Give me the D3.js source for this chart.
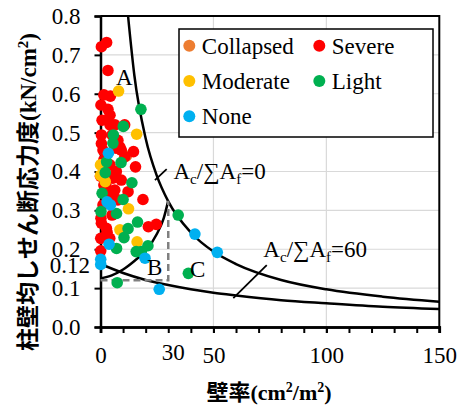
<!DOCTYPE html>
<html lang="ja">
<head>
<meta charset="UTF-8">
<title>Wall ratio vs shear stress</title>
<script src="https://cdn.jsdelivr.net/npm/d3@7"></script>
<style>
    body { margin: 0; background: #fff; }
    svg { display: block; }
    .grid line { stroke: #d9d9d9; stroke-width: 1.2px; }
    .axis path, .axis line { stroke: #000; }
</style>
</head>
<body>
<script>
    const serif = "'Liberation Serif', 'Times New Roman', serif";
    const cjk = "'Noto Sans CJK JP', sans-serif";

    // damage categories (legend order)
    const categories = ["Collapsed", "Severe", "Moderate", "Light", "None"];
    const colors = ["#ED7D31", "#FF0000", "#FFC000", "#00B050", "#00B0F0"];

    // [wall ratio cm2/m2, shear stress kN/cm2]
    const collapsed = [[11.5, 0.440]];
    const severe = [
        [0.4, 0.721], [2.7, 0.732], [3.3, 0.660], [1.5, 0.597], [4.4, 0.594],
        [3.3, 0.560], [4.2, 0.545], [4.2, 0.520], [10.7, 0.520], [0.4, 0.494],
        [0.4, 0.472], [6.9, 0.460], [8.6, 0.463], [9.2, 0.455], [14.6, 0.451],
        [10.8, 0.438], [15.5, 0.412], [7.0, 0.400], [0.0, 0.388], [9.2, 0.378],
        [6.3, 0.352], [12.2, 0.348], [18.8, 0.328], [0.4, 0.267], [2.6, 0.254],
        [21.2, 0.258], [24.7, 0.264], [0.1, 0.228], [4.1, 0.228], [0.1, 0.196],
        [1.5, 0.430], [4.2, 0.417], [1.5, 0.365], [4.2, 0.340], [1.1, 0.314],
        [5.1, 0.288], [0.2, 0.280], [2.4, 0.365], [7.7, 0.327], [5.5, 0.383],
        [0.7, 0.532], [0.2, 0.571], [5.1, 0.494], [7.7, 0.480], [1.1, 0.455],
        [6.4, 0.520], [2.9, 0.244]
    ];
    const moderate = [
        [8.0, 0.607], [16.0, 0.496], [0.0, 0.417], [0.0, 0.390], [2.1, 0.374],
        [12.4, 0.304], [8.6, 0.250], [16.2, 0.219]
    ];
    const light = [
        [17.9, 0.560], [10.1, 0.516], [5.7, 0.494], [5.5, 0.473], [2.7, 0.425],
        [9.1, 0.423], [2.1, 0.397], [13.9, 0.371], [0.7, 0.344], [10.0, 0.328],
        [7.1, 0.292], [0.2, 0.297], [16.4, 0.270], [12.2, 0.253], [10.4, 0.230],
        [7.1, 0.202], [15.8, 0.194], [18.1, 0.194], [21.0, 0.209], [7.4, 0.114],
        [38.9, 0.138], [34.4, 0.288]
    ];
    const none = [
        [3.5, 0.447], [2.9, 0.322], [4.4, 0.314], [3.8, 0.213], [0.1, 0.174],
        [0.1, 0.161], [19.7, 0.177], [26.0, 0.097], [41.8, 0.239], [51.7, 0.192]
    ];
    const seriesData = [collapsed, severe, moderate, light, none];

    // boundary curves
    const curveAc0 = [
        [12.2, 0.800], [15, 0.647], [20, 0.485], [25, 0.388], [30, 0.323],
        [40, 0.243], [50, 0.194], [60, 0.162], [80, 0.121], [100, 0.097],
        [125, 0.078], [150, 0.065]
    ];
    const curveAc60 = [
        [0, 0.162], [10, 0.139], [20, 0.121], [30, 0.108], [40, 0.097],
        [50, 0.088], [60, 0.081], [80, 0.069], [100, 0.061], [125, 0.052],
        [150, 0.046]
    ];
    const curveB = [
        [0, 0.125], [5, 0.133], [10, 0.148], [15, 0.170], [20, 0.196],
        [25, 0.240], [28, 0.280], [30, 0.325]
    ];
    const dashedBox = [[0, 0.12], [30, 0.12], [30, 0.325]];

    const yTicks = [0, 0.1, 0.2, 0.3, 0.4, 0.5, 0.6, 0.7, 0.8];
    const xTicks = [0, 50, 100, 150];
    const xMinorTicks = d3.range(0, 151, 10);

    const width = 463, height = 408;
    const svg = d3.select("body").append("svg")
        .attr("width", width)
        .attr("height", height);

    const x = d3.scaleLinear().domain([0, 150]).range([100.5, 439.3]);
    const y = d3.scaleLinear().domain([0, 0.8]).range([327, 16]);

    // gridlines
    svg.append("g").attr("class", "grid")
        .selectAll("line").data([0.1, 0.2, 0.3, 0.4, 0.5, 0.6, 0.7]).join("line")
        .attr("x1", x(0)).attr("x2", x(150))
        .attr("y1", d => y(d)).attr("y2", d => y(d));
    svg.append("g").attr("class", "grid")
        .selectAll("line").data([50, 100]).join("line")
        .attr("x1", d => x(d)).attr("x2", d => x(d))
        .attr("y1", y(0)).attr("y2", y(0.8));

    // frame top/right
    svg.append("path")
        .attr("d", `M${x(0)},${y(0.8)}H${x(150)}V${y(0)}`)
        .attr("fill", "none").attr("stroke", "#000").attr("stroke-width", 2);

    // axes
    svg.append("g").attr("class", "axis")
        .attr("transform", `translate(${x(0)},0)`)
        .call(d3.axisLeft(y).tickValues(yTicks).tickSize(6).tickPadding(14).tickFormat(d3.format(".1f")));

    svg.append("g").attr("class", "axis")
        .attr("transform", `translate(0,${y(0)})`)
        .call(d3.axisBottom(x).tickValues(xMinorTicks).tickSize(6).tickFormat(""));
    svg.append("g").attr("class", "axis")
        .attr("transform", `translate(0,${y(0)})`)
        .call(d3.axisBottom(x).tickValues(xTicks).tickSize(6).tickPadding(14));

    svg.selectAll(".axis").attr("font-family", serif).attr("font-size", 23);
    svg.selectAll(".axis path.domain").attr("stroke-width", 2.5);
    svg.selectAll(".axis .tick line").attr("stroke-width", 2);

    // extra tick labels
    svg.append("text").attr("x", x(0) - 10.5).attr("y", y(0.12) - 15)
        .attr("text-anchor", "end").attr("dy", "0.34em")
        .attr("font-family", serif).attr("font-size", 23).text("0.12");
    svg.append("text").attr("x", x(30) + 5).attr("y", y(0) + 25)
        .attr("text-anchor", "middle").attr("dy", "0.34em")
        .attr("font-family", serif).attr("font-size", 23).text("30");

    // curves
    const line = d3.line().x(d => x(d[0])).y(d => y(d[1])).curve(d3.curveMonotoneX);
    [curveAc0, curveAc60, curveB].forEach(c => {
        svg.append("path").datum(c)
            .attr("d", line)
            .attr("fill", "none").attr("stroke", "#000").attr("stroke-width", 2.5);
    });
    svg.append("path").datum(dashedBox)
        .attr("d", d3.line().x(d => x(d[0])).y(d => y(d[1])))
        .attr("fill", "none").attr("stroke", "#808080")
        .attr("stroke-width", 2.5).attr("stroke-dasharray", "7,4");

    // slash marks pointing to curve labels
    const slashes = [[[24.1, 0.378], [29.3, 0.406]], [[58.8, 0.074], [73.6, 0.159]]];
    svg.selectAll(".slash").data(slashes).join("line").attr("class", "slash")
        .attr("x1", d => x(d[0][0])).attr("y1", d => y(d[0][1]))
        .attr("x2", d => x(d[1][0])).attr("y2", d => y(d[1][1]))
        .attr("stroke", "#000").attr("stroke-width", 1.8);

    // points
    seriesData.forEach((s, i) => {
        svg.append("g").selectAll("circle").data(s).join("circle")
            .attr("cx", d => x(d[0])).attr("cy", d => y(d[1]))
            .attr("r", 5.8).attr("fill", colors[i]);
    });

    // curve labels
    function ratioLabel(px, py, val) {
        const t = svg.append("text").attr("x", x(px)).attr("y", y(py))
            .attr("font-family", serif).attr("font-size", 23);
        t.append("tspan").text("A");
        t.append("tspan").attr("dy", 5).attr("font-size", 15).text("c");
        t.append("tspan").attr("dy", -5).text("/∑A");
        t.append("tspan").attr("dy", 5).attr("font-size", 15).text("f");
        t.append("tspan").attr("dy", -5).text("=" + val);
    }
    ratioLabel(32.3, 0.381, "0");
    ratioLabel(72.1, 0.181, "60");

    const zoneLabels = [["A", 6.9, 0.622], ["B", 20.6, 0.135], ["C", 39.6, 0.129]];
    svg.selectAll(".zone").data(zoneLabels).join("text").attr("class", "zone")
        .attr("x", d => x(d[1])).attr("y", d => y(d[2]))
        .attr("font-family", serif).attr("font-size", 23).text(d => d[0]);

    // legend
    const lg = svg.append("g");
    lg.append("rect").attr("x", 179).attr("y", 29).attr("width", 254).attr("height", 108)
        .attr("fill", "#fff").attr("stroke", "#000").attr("stroke-width", 1.5);
    categories.forEach((c, i) => {
        const lx = 189.3 + (i % 2) * 130;
        const ly = 45.7 + Math.floor(i / 2) * 35.3;
        lg.append("circle").attr("cx", lx).attr("cy", ly).attr("r", 6).attr("fill", colors[i]);
        lg.append("text").attr("x", lx + 12.5).attr("y", ly).attr("dy", "0.34em")
            .attr("font-family", serif).attr("font-size", 23).text(c);
    });

    // axis titles
    const xt = svg.append("text").attr("x", 269).attr("y", 392).attr("dy", "0.35em")
        .attr("text-anchor", "middle").attr("font-family", serif)
        .attr("font-size", 22).attr("font-weight", "bold");
    xt.append("tspan").attr("font-family", cjk).text("壁率");
    xt.append("tspan").text("(cm");
    xt.append("tspan").attr("dy", -8).attr("font-size", 14).text("2");
    xt.append("tspan").attr("dy", 8).text("/m");
    xt.append("tspan").attr("dy", -8).attr("font-size", 14).text("2");
    xt.append("tspan").attr("dy", 8).text(")");

    const yt = svg.append("text").attr("transform", "translate(28,192) rotate(-90)")
        .attr("dy", "0.35em").attr("text-anchor", "middle")
        .attr("font-family", serif).attr("font-size", 23).attr("font-weight", "bold");
    yt.append("tspan").attr("font-family", cjk).text("柱壁均しせん断応力度");
    yt.append("tspan").text("(kN/cm");
    yt.append("tspan").attr("dy", -8).attr("font-size", 15).text("2");
    yt.append("tspan").attr("dy", 8).text(")");
</script>
</body>
</html>
